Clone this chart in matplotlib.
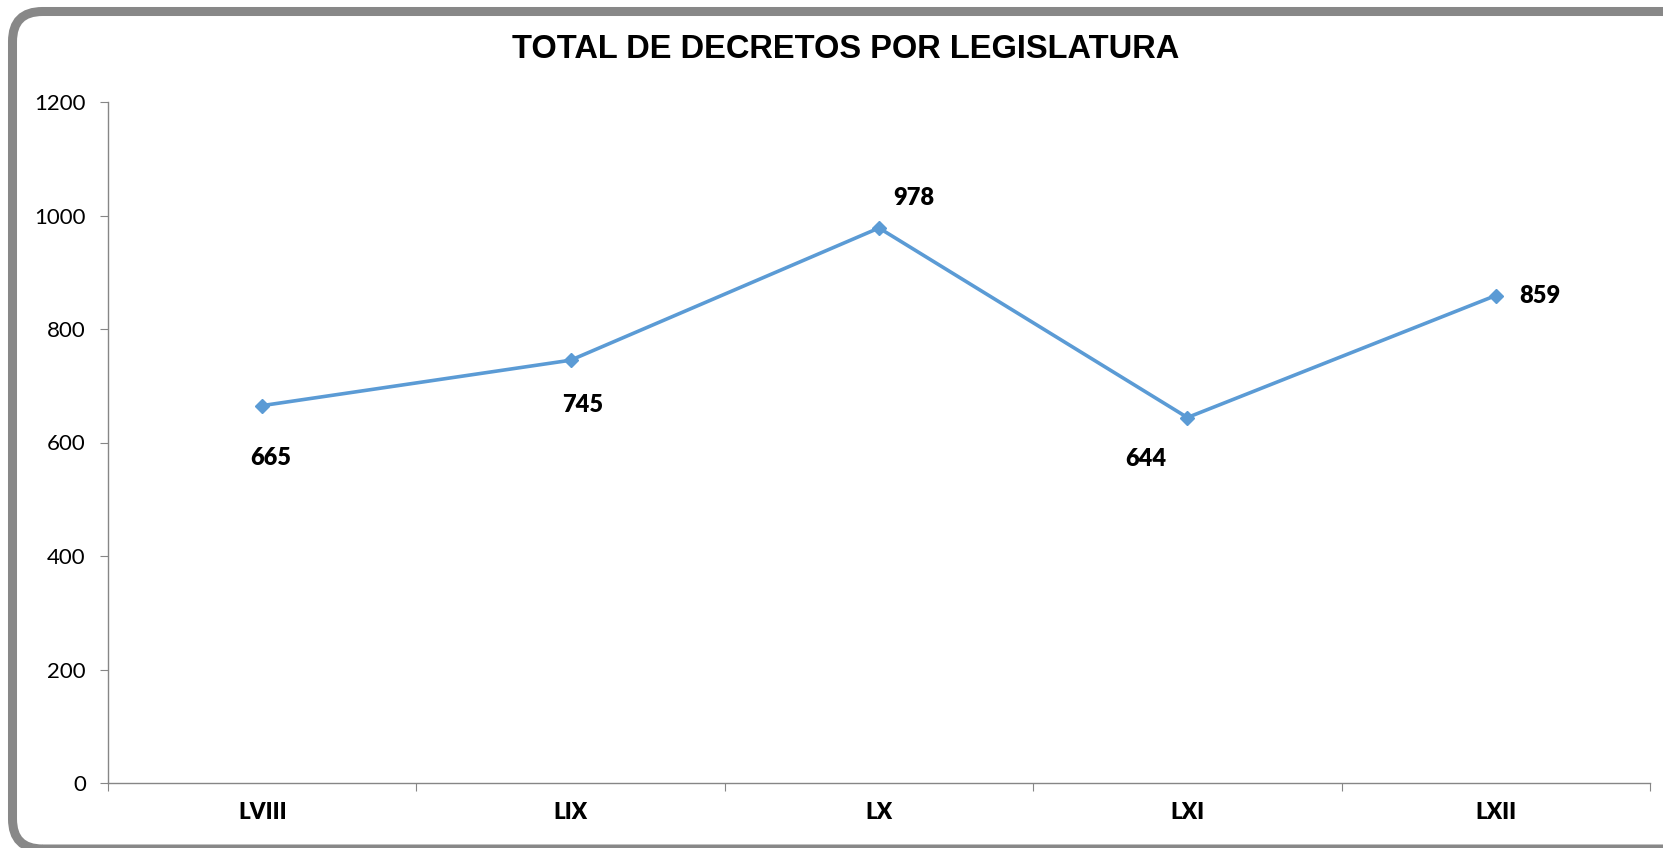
import numpy as np
import matplotlib.pyplot as plt
from matplotlib.patches import FancyBboxPatch
from matplotlib.transforms import IdentityTransform

# Data
legislaturas = ['LVIII', 'LIX', 'LX', 'LXI', 'LXII']
decretos = [665, 745, 978, 644, 859]
y_ticks = [0, 200, 400, 600, 800, 1000, 1200]

# label offsets in pixels (dx, dy) relative to each point
label_offsets = [(9, -52), (12, -45), (35, 30), (-42, -41), (44, 0)]

W, H, DPI = 1663, 848, 100
fig = plt.figure(figsize=(W / DPI, H / DPI), dpi=DPI)
ax = fig.add_axes([108 / W, 1 - 783 / H, (1650 - 108) / W, (783 - 102) / H])

x = np.arange(len(legislaturas))
ax.plot(x, decretos, color='#5B9BD5', linewidth=2.6, marker='D', markersize=7.5,
        markerfacecolor='#5B9BD5', markeredgecolor='#5B9BD5')

for xi, v, (dx, dy) in zip(x, decretos, label_offsets):
    ax.annotate(str(v), (xi, v), xytext=(dx, dy), textcoords='offset pixels',
                ha='center', va='center', fontsize=17, fontweight='heavy',
                family='Lato', color='black')

ax.set_xlim(-0.5, len(legislaturas) - 0.5)
ax.set_ylim(0, 1200)
ax.set_yticks(y_ticks)
ax.set_yticklabels([str(t) for t in y_ticks], family='Lato', fontsize=16)

# category labels centered, ticks on boundaries
ax.set_xticks(np.arange(len(legislaturas) + 1) - 0.5)
ax.set_xticklabels([])
ax.set_xticks(x, minor=True)
ax.set_xticklabels(legislaturas, minor=True, family='Lato', fontsize=16,
                   fontweight='heavy')
ax.tick_params(axis='x', which='minor', length=0, pad=14)
ax.tick_params(axis='x', which='major', length=6, color='#868686', direction='out')
ax.tick_params(axis='y', length=6, color='#868686', pad=10)

for s in ['top', 'right']:
    ax.spines[s].set_visible(False)
for s in ['left', 'bottom']:
    ax.spines[s].set_color('#868686')
    ax.spines[s].set_linewidth(1)

fig.text(846 / W, 1 - 50 / H, 'TOTAL DE DECRETOS POR LEGISLATURA', ha='center',
         va='center', fontsize=23.5, fontweight='bold', family='Liberation Sans')

# rounded frame, running off the right and bottom edges of the image
x0, y0, x1, y1, r = 12.5, -1.0, 1700.0, 836.5, 30
frame = FancyBboxPatch((x0 + r, y0 + r), (x1 - x0) - 2 * r, (y1 - y0) - 2 * r,
                       boxstyle='round,pad=%d' % r, transform=IdentityTransform(),
                       facecolor='none', edgecolor='#888888', linewidth=6.5,
                       figure=fig)
fig.patches.append(frame)

fig.savefig('out.png', dpi=DPI)
